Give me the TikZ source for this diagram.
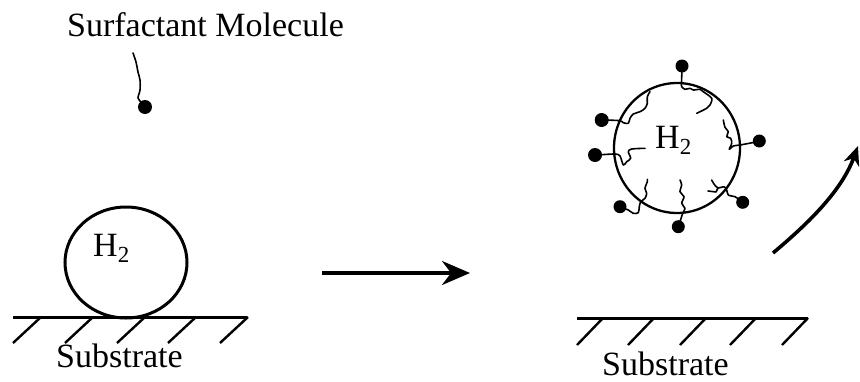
\documentclass[tikz,border=0pt]{standalone}
\usepackage{fontspec}
\setmainfont{Liberation Serif}
\usetikzlibrary{arrows.meta,shapes.geometric}
\newcommand{\hydro}{H\raisebox{-6pt}{\fontsize{23}{23}\selectfont 2}}
\begin{document}
\begin{tikzpicture}[x=1pt,y=-1pt,
  lbl/.style={inner sep=0pt,anchor=base west,font=\fontsize{34}{40}\selectfont},
  bubble/.style={draw,ellipse,inner sep=0pt},
  ground/.style={line width=3pt},
  hatch/.style={line width=2.4pt},
  tail/.style={line width=1.6pt,line join=round,line cap=round},
  head/.style={fill=black},
  move/.style={line width=3.3pt,-{Stealth[length=28pt,width=24pt,inset=9pt]}},
  rise/.style={line width=3.6pt,-{Stealth[length=19pt,width=16pt,inset=6pt]}}]
\useasboundingbox (0,0) rectangle (860,381);

% free surfactant molecule
\node[lbl] (title) at (67,36) {Surfactant Molecule};
\draw[tail] plot[smooth] coordinates {(133,53) (136,62) (138,72) (140,80) (140,90) (138,98) (141,102)};
\fill[head] (145,107) circle (7);

% left: bubble resting on the substrate
\node[bubble,line width=3pt,minimum width=122pt,minimum height=111pt] (bubL) at (126,262.5) {};
\node[lbl] (h2L) at (93,256) {\hydro};
\coordinate (sL1) at (13,317);
\coordinate (sL2) at (247,317);
\draw[ground] (sL1) -- (sL2);
\foreach \x in {13,65,117,168,220}
  \draw[hatch] (\x,343) -- (\x+28,317);
\node[lbl] (subL) at (56,367) {Substrate};

% transition arrow
\coordinate (mA) at (322,273);
\coordinate (mB) at (470,273);
\draw[move] (mA) -- (mB);

% right: coated bubble lifted from the substrate
\node[bubble,line width=2.3pt,minimum width=126pt,minimum height=130pt] (bubR) at (677,148) {};
\node[lbl] (h2R) at (655,148) {\hydro};

% adsorbed surfactant molecules (head outside, tail inside)
\fill[head] (682,66) circle (6.5);
\draw[tail] plot[smooth] coordinates {(682,70) (681.5,83) (681.7,86.7) (685,89.3) (690,88.3) (693.3,90) (700,89.3) (703.3,91.7) (711.7,98.3) (710,105) (706.7,108.3) (696.7,113.3)};

\fill[head] (601.7,120) circle (7);
\draw[tail] plot[smooth] coordinates {(605,120) (620,120.7) (623.3,122.7) (628.3,123.3) (630,118.3) (633.3,114) (640,111.7) (645,108.3) (647.3,103.3) (647.3,96.7) (650,91.7)};

\fill[head] (595,155) circle (7);
\draw[tail] plot[smooth] coordinates {(598,155) (615,154) (620,156) (623.3,165) (626.7,161.7) (630.7,158.3) (628.3,151.7) (631.7,149) (645,148.3)};

\fill[head] (759.3,141) circle (6.5);
\draw[tail] plot[smooth] coordinates {(756,142) (740,145) (733.3,146) (729.3,149.3) (731.7,143.3) (730.7,138.3) (726.7,136.7) (728.3,131.7) (725,127.3) (723.3,120)};

\fill[head] (742.7,202.3) circle (6.5);
\draw[tail] plot[smooth] coordinates {(740,200) (735,196.7) (728.3,195) (726.7,190) (724,186.7) (718,188) (714,184) (711.7,180)};
\draw[tail] (718,188) -- (716,192) -- (708,191);

\fill[head] (678.3,226.7) circle (6.5);
\draw[tail] plot[smooth] coordinates {(679,223) (680,221.7) (682.7,213.3) (685,208.3) (681.7,203.3) (684,196.7) (680,191.7) (681.7,185) (680,180)};

\fill[head] (620,206.7) circle (6.5);
\draw[tail] plot[smooth] coordinates {(623,208) (628.3,210) (633.3,213.3) (638.3,212.7) (639.3,206.7) (640.7,201.7) (645,198.3) (646.7,193.3) (645,188.3) (647.3,181.7) (647.3,179.3)};

% substrate on the right
\coordinate (sR1) at (577,318);
\coordinate (sR2) at (808,318);
\draw[ground] (sR1) -- (sR2);
\foreach \x in {577,628,680,730,782}
  \draw[hatch] (\x,345) -- (\x+26,318);
\node[lbl] (subR) at (602,375) {Substrate};

% rising arrow
\coordinate (rA) at (773,253);
\coordinate (rB) at (858,146);
\draw[rise] (rA) .. controls (810,222) and (842,190) .. (rB);
\end{tikzpicture}
\end{document}
